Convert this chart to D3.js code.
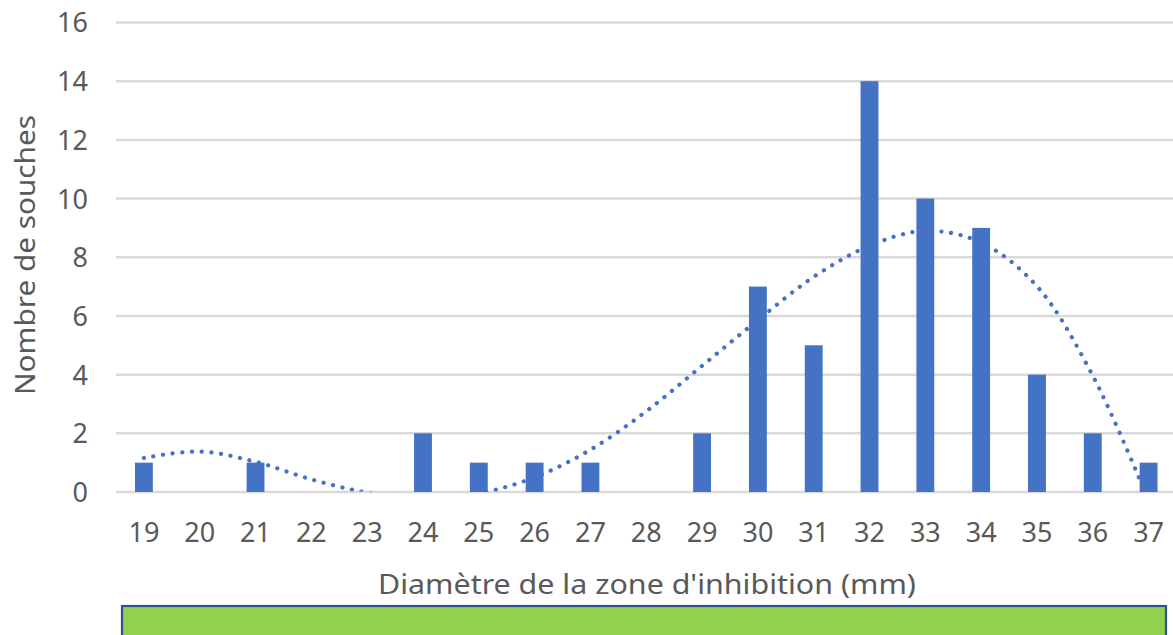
<!DOCTYPE html>
<html>
<head>
<meta charset="utf-8">
<script src="https://cdn.jsdelivr.net/npm/d3@7"></script>
<style>
  html, body { margin: 0; padding: 0; background: #fff; }
  svg { display: block; }
  text { font-family: "Noto Sans", "Open Sans", sans-serif; fill: #595959; }
</style>
</head>
<body>
<svg id="chart" width="1173" height="635"></svg>
<script>
// ---- data ----
const categories = ["19","20","21","22","23","24","25","26","27","28","29","30","31","32","33","34","35","36","37"];
const counts     = [1, 0, 1, 0, 0, 2, 1, 1, 1, 0, 2, 7, 5, 14, 10, 9, 4, 2, 1];
// polynomial trend line (value at each category)
const trend      = [1.16, 1.38, 1.03, 0.43, -0.02, -0.25, -0.05, 0.5, 1.44, 2.75, 4.3, 5.86, 7.33, 8.39, 8.9, 8.5, 7.01, 3.96, -0.3];
const yTicks     = [0, 2, 4, 6, 8, 10, 12, 14, 16];
const xTitle = "Diamètre de la zone d'inhibition (mm)";
const yTitle = "Nombre de souches";

const svg = d3.select("#chart");
const plot = { left: 116, right: 1176.5, top: 22.5, bottom: 492 };

const x = d3.scaleBand().domain(categories).range([plot.left, plot.right]).paddingInner(0.68).paddingOuter(0.34);
const y = d3.scaleLinear().domain([0, 16]).range([plot.bottom, plot.top]);

// gridlines
svg.append("g").selectAll("line").data(yTicks).join("line")
  .attr("x1", plot.left).attr("x2", 1173)
  .attr("y1", d => y(d)).attr("y2", d => y(d))
  .attr("stroke", "#D9D9D9").attr("stroke-width", 2.5);

// y tick labels
const yAxis = d3.axisLeft(y).tickValues(yTicks).tickSize(0).tickPadding(0);
const gy = svg.append("g").attr("transform", "translate(88,0)").call(yAxis);
gy.select(".domain").remove();
gy.selectAll("text").attr("font-size", 27).attr("fill", "#595959")
  .attr("font-family", "Noto Sans, Open Sans, sans-serif").attr("dy", "0.35em").attr("x", 0);

// bars
svg.append("g").selectAll("rect").data(counts).join("rect")
  .attr("x", (d, i) => x(categories[i]))
  .attr("width", x.bandwidth())
  .attr("y", d => y(d))
  .attr("height", d => y(0) - y(d))
  .attr("fill", "#4472C4");

// trend line (clipped at axis min)
svg.append("clipPath").attr("id", "clip").append("rect")
  .attr("x", plot.left).attr("y", 0).attr("width", 1173 - plot.left).attr("height", plot.bottom - 0.5);
const line = d3.line()
  .x((d, i) => x(categories[i]) + x.bandwidth() / 2)
  .y(d => y(d))
  .curve(d3.curveCatmullRom.alpha(0.5));
svg.append("path").datum(trend)
  .attr("clip-path", "url(#clip)")
  .attr("d", line)
  .attr("fill", "none")
  .attr("stroke", "#4472C4")
  .attr("stroke-width", 4.2)
  .attr("stroke-linecap", "round")
  .attr("stroke-dasharray", "0.1 9.6");

// x tick labels
const xAxis = d3.axisBottom(x).tickSize(0).tickPadding(0);
const gx = svg.append("g").attr("transform", `translate(0,${plot.bottom})`).call(xAxis);
gx.select(".domain").remove();
gx.selectAll("text").attr("font-size", 27).attr("fill", "#595959")
  .attr("font-family", "Noto Sans, Open Sans, sans-serif").attr("y", 41).attr("dy", "0.35em");

// axis titles
svg.append("text").attr("x", 647).attr("y", 594)
  .attr("text-anchor", "middle").attr("font-size", 27)
  .attr("textLength", 538).attr("lengthAdjust", "spacingAndGlyphs")
  .text(xTitle);
svg.append("text").attr("transform", "translate(35,255) rotate(-90)")
  .attr("text-anchor", "middle").attr("font-size", 27)
  .attr("textLength", 280).attr("lengthAdjust", "spacingAndGlyphs")
  .text(yTitle);

// green band at the bottom
svg.append("rect").attr("x", 122).attr("y", 606).attr("width", 1044).attr("height", 40)
  .attr("fill", "#92D050").attr("stroke", "#2F528F").attr("stroke-width", 2.2);
</script>
</body>
</html>
